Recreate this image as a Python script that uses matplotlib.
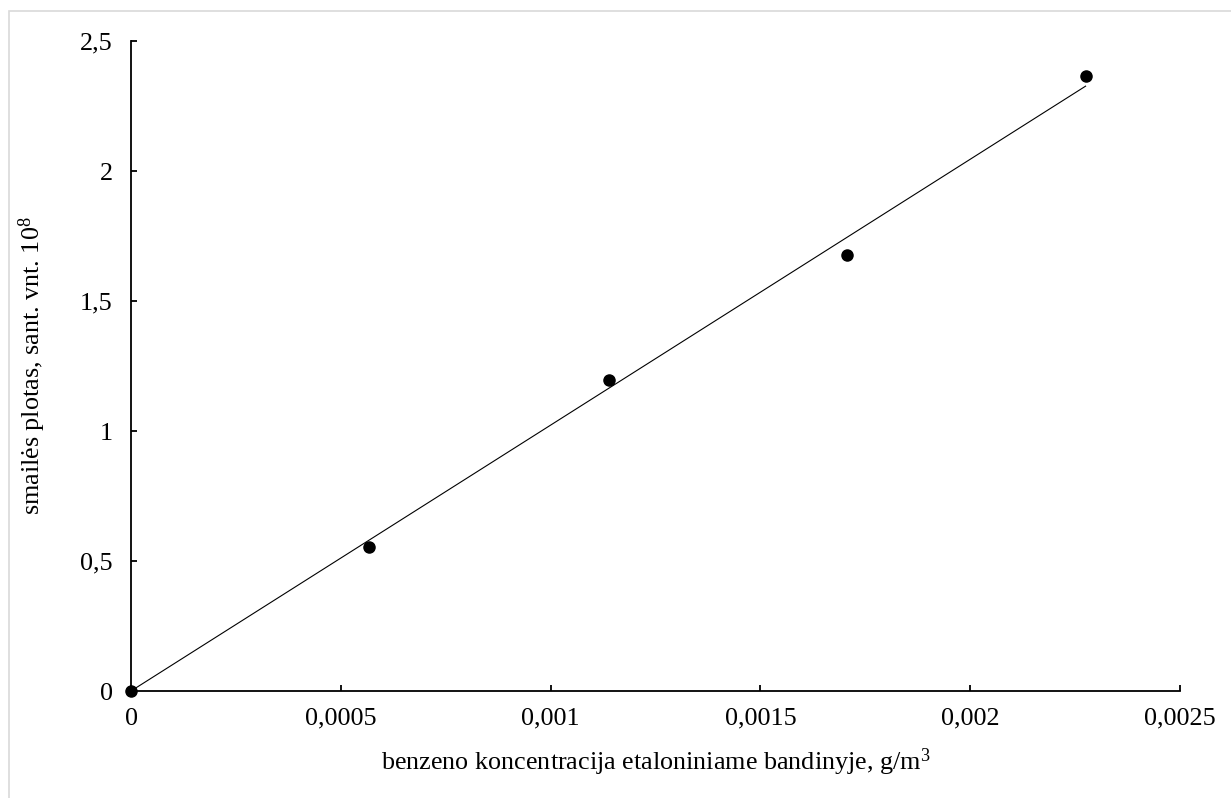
import numpy as np
import matplotlib
matplotlib.use("Agg")
import matplotlib.pyplot as plt
from matplotlib.patches import Rectangle

plt.rcParams["font.family"] = ["Liberation Serif", "DejaVu Serif"]
plt.rcParams["mathtext.fontset"] = "custom"
plt.rcParams["mathtext.rm"] = "Liberation Serif"

# Calibration data: benzene concentration (g/m3) vs peak area (x 1e8)
concentration = [0.0, 0.000568, 0.001138, 0.001706, 0.002275]
peak_area = [0.0, 0.553, 1.196, 1.678, 2.367]

x_ticks = [0, 0.0005, 0.001, 0.0015, 0.002, 0.0025]
x_tick_labels = ["0", "0,0005", "0,001", "0,0015", "0,002", "0,0025"]
y_ticks = [0, 0.5, 1, 1.5, 2, 2.5]
y_tick_labels = ["0", "0,5", "1", "1,5", "2", "2,5"]

W, H = 1231, 798
FS = 18.8
fig = plt.figure(figsize=(W / 100, H / 100), dpi=100)
ax = fig.add_axes([131 / W, 107 / H, (1180 - 131) / W, (691 - 41) / H])

x = np.array(concentration)
y = np.array(peak_area)

# Linear trend line forced through the origin
slope = np.sum(x * y) / np.sum(x * x)
xl = np.array([0.0, x.max()])
ax.plot(xl, slope * xl, color="black", lw=0.8, zorder=2)

ax.plot(x, y, "o", color="black", ms=8, clip_on=False, zorder=3)

ax.set_xlim(0, 0.0025)
ax.set_ylim(0, 2.5)
ax.set_xticks(x_ticks)
ax.set_xticklabels(x_tick_labels)
ax.set_yticks(y_ticks)
ax.set_yticklabels(y_tick_labels)

for side in ("top", "right"):
    ax.spines[side].set_visible(False)
for side in ("left", "bottom"):
    ax.spines[side].set_linewidth(1.3)
    ax.spines[side].set_color("black")

ax.tick_params(axis="both", direction="in", length=4.5, width=1.3,
               labelsize=FS, colors="black")
ax.tick_params(axis="y", pad=13)
ax.tick_params(axis="x", pad=12)

ax.set_xlabel(r"benzeno koncentracija etaloniniame bandinyje, g/m$\mathregular{^3}$",
              fontsize=FS)
ax.set_ylabel(r"smailės plotas, sant. vnt. 10$\mathregular{^8}$",
              fontsize=FS)
ax.xaxis.set_label_coords(0.5, -0.085)
ax.yaxis.set_label_coords(-0.079, 0.5)

# Light frame around the chart area
fig.add_artist(Rectangle((9 / W, -0.1), 1.2, (798 - 11) / H + 0.1,
                         transform=fig.transFigure, fill=False,
                         edgecolor="#d9d9d9", lw=1.2))

fig.savefig("out.png", dpi=100, facecolor="white")
